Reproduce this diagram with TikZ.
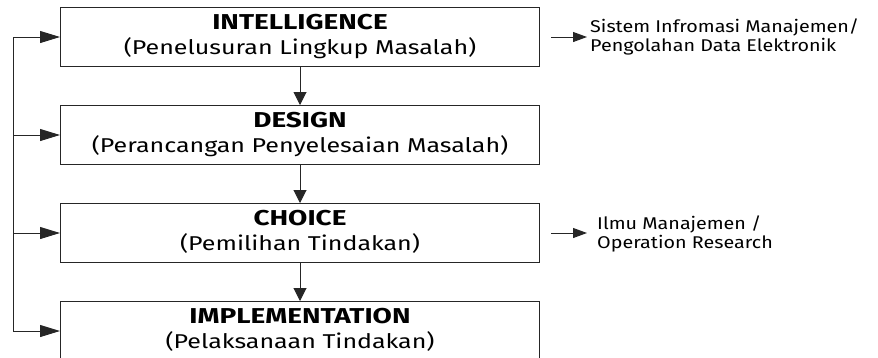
\documentclass[tikz,border=0pt]{standalone}
\usepackage{fontspec}
\setmainfont{Fira Sans}[FakeStretch=1.25, BoldFeatures={FakeStretch=1.3}]
\newfontfamily\notefont{Fira Sans}[FakeStretch=1.16]
\usetikzlibrary{arrows.meta,calc}

\begin{document}
\begin{tikzpicture}[x=1pt,y=-1pt,
  line/.style={draw=black!85, line width=1pt},
  stage/.style={line, minimum width=479pt, minimum height=59pt,
    inner sep=0pt, anchor=north west},
  title/.style={anchor=base, inner sep=0pt,
    font=\fontsize{21.5}{24}\selectfont\bfseries},
  subtitle/.style={anchor=base, inner sep=0pt,
    font=\fontsize{20}{24}\selectfont},
  note/.style={anchor=north west, inner sep=0pt, align=left,
    font=\notefont\fontsize{17}{19}\selectfont},
  flow/.style={line, -{Triangle[length=13pt,width=13pt]}},
  feed/.style={line, -{Triangle[length=20pt,width=12pt]}},
  aside/.style={line, -{Triangle[length=14pt,width=10pt]}}
]
\useasboundingbox (0,0) rectangle (878,357);
\clip (0,0) rectangle (878,357);

% the four phases of decision making
\node[stage] (intel)  at (60,7)   {};
\node[stage] (design) at (60,105) {};
\node[stage] (choice) at (60,203) {};
\node[stage] (impl)   at (60,301) {};

\node[title]    (intelT)  at ($(intel.north)+(0,22)$)  {INTELLIGENCE};
\node[subtitle] (intelS)  at ($(intel.north)+(0,47)$)  {(Penelusuran Lingkup Masalah)};
\node[title]    (designT) at ($(design.north)+(0,22)$) {DESIGN};
\node[subtitle] (designS) at ($(design.north)+(0,47)$) {(Perancangan Penyelesaian Masalah)};
\node[title]    (choiceT) at ($(choice.north)+(0,22)$) {CHOICE};
\node[subtitle] (choiceS) at ($(choice.north)+(0,47)$) {(Pemilihan Tindakan)};
\node[title]    (implT)   at ($(impl.north)+(0,22)$)   {IMPLEMENTATION};
\node[subtitle] (implS)   at ($(impl.north)+(0,47)$)   {(Pelaksanaan Tindakan)};

% downward flow between phases
\draw[flow] (intel.south)  -- (design.north);
\draw[flow] (design.south) -- (choice.north);
\draw[flow] (choice.south) -- (impl.north);

% feedback rail on the left
\coordinate (rail) at (13,0);
\coordinate (r1) at (rail |- intel.west);
\coordinate (r2) at (rail |- design.west);
\coordinate (r3) at (rail |- choice.west);
\coordinate (r4) at (rail |- impl.west);
\draw[line] (r1) -- (r4);
\draw[feed] (r1) -- (intel.west);
\draw[feed] (r2) -- (design.west);
\draw[feed] (r3) -- (choice.west);
\draw[feed] (r4) -- (impl.west);

% supporting disciplines
\node[note] (sim)  at (590,19)    {Sistem Infromasi Manajemen/\\Pengolahan Data Elektronik};
\node[note] (ilmu) at (597,215.5) {Ilmu Manajemen /\\Operation Research};
\coordinate (s1) at ($(intel.east)+(11,0)$);
\coordinate (e1) at ($(intel.east)+(47,0)$);
\coordinate (s3) at ($(choice.east)+(11,0)$);
\coordinate (e3) at ($(choice.east)+(47,0)$);
\draw[aside] (s1) -- (e1);
\draw[aside] (s3) -- (e3);
\end{tikzpicture}
\end{document}
